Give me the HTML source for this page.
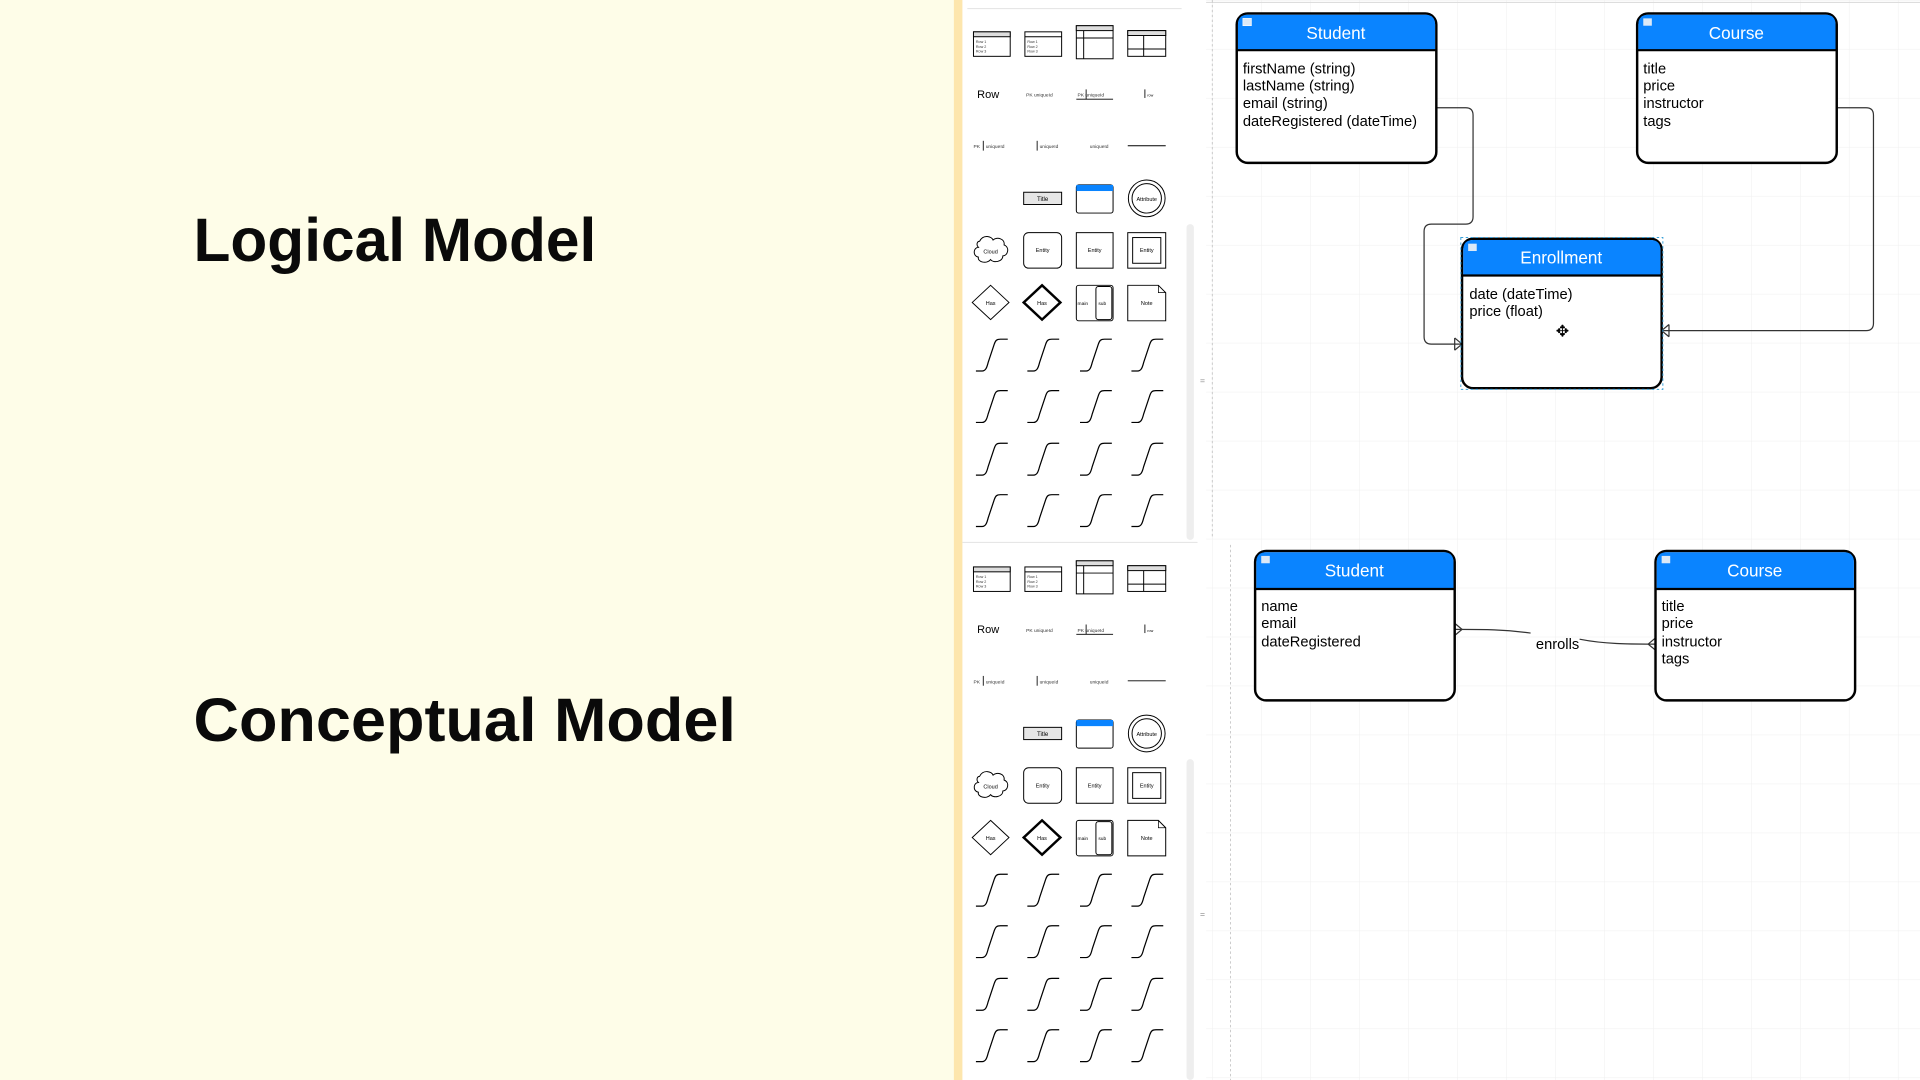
<!DOCTYPE html>
<html><head><meta charset="utf-8"><style>
html,body{margin:0;padding:0;width:1920px;height:1080px;overflow:hidden;background:#fff}
svg{display:block}
text{font-family:"Liberation Sans",Arial,sans-serif}
</style></head><body>
<svg width="1920" height="1080" viewBox="0 0 1568 882" xmlns="http://www.w3.org/2000/svg">
<defs>
<pattern id="grid" width="40" height="40" patternUnits="userSpaceOnUse" x="990" y="0">
<path d="M40 0H0V40" fill="none" stroke="#efefef" stroke-width="0.8"/>
</pattern>
<g id="curve"><path d="M0 27 h5 c3 0 4 -3 5 -7 l5 -15 c1 -3 2 -4 5 -4 h6" fill="none" stroke="#000" stroke-width="1"/></g>
<g id="panel">
 <!-- row1 tables -->
 <g fill="#fff" stroke="#000" stroke-width="0.8">
  <rect x="795" y="26" width="30" height="20"/><rect x="795" y="26" width="30" height="4" fill="#ddd"/>
  <rect x="837" y="26" width="30" height="20"/><line x1="837" y1="30" x2="867" y2="30"/>
  <rect x="879" y="21" width="30" height="27"/><rect x="879" y="21" width="30" height="4" fill="#ddd"/><line x1="879" y1="31" x2="909" y2="31"/><line x1="885" y1="25" x2="885" y2="48"/>
  <rect x="921" y="25" width="31" height="21"/><rect x="921" y="25" width="31" height="4" fill="#ddd"/><line x1="921" y1="40" x2="952" y2="40"/><line x1="934" y1="29" x2="934" y2="46"/>
 </g>
 <g font-size="3" fill="#333">
  <text x="797" y="35">Row 1</text><text x="797" y="39">Row 2</text><text x="797" y="43">Row 3</text>
  <text x="839" y="35">Row 1</text><text x="839" y="39">Row 2</text><text x="839" y="43">Row 3</text>
 </g>
 <!-- row2 -->
 <text x="798" y="80" font-size="9">Row</text>
 <text x="838" y="79" font-size="4" fill="#333">PK  uniqueId</text>
 <text x="880" y="79" font-size="4" fill="#333">PK  uniqueId</text>
 <line x1="879" y1="81" x2="909" y2="81" stroke="#000" stroke-width="0.7"/><line x1="887" y1="73" x2="887" y2="81" stroke="#000" stroke-width="0.7"/>
 <line x1="935" y1="73" x2="935" y2="80" stroke="#000" stroke-width="0.7"/><text x="937" y="79" font-size="3">row</text>
 <!-- row3 -->
 <text x="795" y="121" font-size="4" fill="#333">PK</text><line x1="803" y1="115" x2="803" y2="123" stroke="#000" stroke-width="0.7"/><text x="805" y="121" font-size="4" fill="#333">uniqueId</text>
 <line x1="847" y1="115" x2="847" y2="123" stroke="#000" stroke-width="0.7"/><text x="849" y="121" font-size="4" fill="#333">uniqueId</text>
 <text x="890" y="121" font-size="4" fill="#333">uniqueId</text>
 <line x1="921" y1="119" x2="952" y2="119" stroke="#000" stroke-width="0.8"/>
 <!-- row4 -->
 <rect x="836" y="157" width="31" height="10" fill="#e6e6e6" stroke="#000" stroke-width="0.8"/><text x="851.5" y="164" font-size="5" text-anchor="middle">Title</text>
 <rect x="879" y="151" width="30" height="23" rx="2" fill="#fff" stroke="#000" stroke-width="0.8"/><rect x="879" y="151" width="30" height="5" fill="#0a84ff"/>
 <circle cx="936.5" cy="162" r="15" fill="#fff" stroke="#000" stroke-width="0.8"/><circle cx="936.5" cy="162" r="12" fill="none" stroke="#000" stroke-width="0.8"/><text x="936.5" y="164" font-size="4.5" text-anchor="middle">Attribute</text>
 <!-- row5 -->
 <path d="M800 197 c3 -6 10 -4 11 -1 c3 -3 10 -1 9 4 c5 2 3 9 -1 9 c0 5 -8 6 -10 3 c-3 4 -11 2 -10 -2 c-5 -1 -4 -8 0 -8 c-2 -2 -1 -5 1 -5z" fill="#fff" stroke="#000" stroke-width="0.8"/><text x="809" y="207" font-size="4.5" text-anchor="middle">Cloud</text>
 <rect x="836" y="190" width="31" height="29" rx="4" fill="#fff" stroke="#000" stroke-width="0.8"/><text x="851.5" y="206" font-size="4.5" text-anchor="middle">Entity</text>
 <rect x="879" y="190" width="30" height="29" fill="#fff" stroke="#000" stroke-width="0.8"/><text x="894" y="206" font-size="4.5" text-anchor="middle">Entity</text>
 <rect x="921" y="190" width="31" height="29" fill="#fff" stroke="#000" stroke-width="0.8"/><rect x="925" y="194" width="23" height="21" fill="none" stroke="#000" stroke-width="0.8"/><text x="936.5" y="206" font-size="4.5" text-anchor="middle">Entity</text>
 <!-- row6 -->
 <path d="M809 233 l15 14 l-15 14 l-15 -14z" fill="#fff" stroke="#000" stroke-width="0.8"/><text x="809" y="249" font-size="4.5" text-anchor="middle">Has</text>
 <path d="M851 233 l15 14 l-15 14 l-15 -14z" fill="#fff" stroke="#000" stroke-width="2"/><text x="851" y="249" font-size="4.5" text-anchor="middle">Has</text>
 <rect x="879" y="233" width="30" height="29" rx="2" fill="#fff" stroke="#000" stroke-width="0.8"/><rect x="895" y="234" width="13" height="27" rx="2" fill="#fff" stroke="#000" stroke-width="0.8"/>
 <text x="880" y="249" font-size="4">main</text><text x="897" y="249" font-size="4">sub</text>
 <path d="M921 233 h25 l6 6 v23 h-31z" fill="#fff" stroke="#000" stroke-width="0.8"/><path d="M946 233 v6 h6" fill="none" stroke="#000" stroke-width="0.6"/><text x="936.5" y="249" font-size="4.5" text-anchor="middle">Note</text>
 <!-- curves -->
 <use href="#curve" x="797" y="276"/><use href="#curve" x="839" y="276"/><use href="#curve" x="882" y="276"/><use href="#curve" x="924" y="276"/>
 <use href="#curve" x="797" y="318"/><use href="#curve" x="839" y="318"/><use href="#curve" x="882" y="318"/><use href="#curve" x="924" y="318"/>
 <use href="#curve" x="797" y="361"/><use href="#curve" x="839" y="361"/><use href="#curve" x="882" y="361"/><use href="#curve" x="924" y="361"/>
 <use href="#curve" x="797" y="403"/><use href="#curve" x="839" y="403"/><use href="#curve" x="882" y="403"/><use href="#curve" x="924" y="403"/>
</g>
</defs>

<!-- left yellow panel -->
<rect x="0" y="0" width="780" height="882" fill="#fefde8"/>
<rect x="779" y="0" width="7" height="882" fill="#fde6ad"/>
<text x="158" y="213" font-size="50" font-weight="bold" textLength="329" lengthAdjust="spacingAndGlyphs" fill="#0a0a0a">Logical Model</text>
<text x="158" y="605" font-size="50" font-weight="bold" textLength="443" lengthAdjust="spacingAndGlyphs" fill="#0a0a0a">Conceptual Model</text>

<!-- sidebar -->
<rect x="786" y="0" width="192" height="882" fill="#fff"/>
<line x1="790" y1="7" x2="965" y2="7" stroke="#e6e6e6"/>
<line x1="786" y1="443" x2="978" y2="443" stroke="#e6e6e6"/>
<rect x="969" y="183" width="6" height="258" rx="3" fill="#eee"/>
<rect x="969" y="620" width="6" height="262" rx="3" fill="#eee"/>
<use href="#panel"/>
<use href="#panel" y="437"/>
<text x="980" y="313" font-size="7" fill="#888">=</text>
<text x="980" y="749" font-size="7" fill="#888">=</text>

<!-- canvas -->
<rect x="985" y="0" width="583" height="882" fill="url(#grid)"/>
<line x1="985" y1="2" x2="1568" y2="2" stroke="#ddd"/>
<line x1="990" y1="0" x2="990" y2="440" stroke="#bbb" stroke-dasharray="2,2" stroke-width="0.6"/>
<line x1="1005" y1="445" x2="1005" y2="882" stroke="#bbb" stroke-dasharray="2,2" stroke-width="0.6"/>

<!-- connectors logical -->
<g fill="none" stroke="#333" stroke-width="1">
 <path d="M1173 88 h24 q6 0 6 6 v83 q0 6 -6 6 h-28 q-6 0 -6 6 v86 q0 6 6 6 h25"/>
 <path d="M1188 276 l6 5 l-6 5 M1188 276 v10"/>
 <path d="M1500 88 h24 q6 0 6 6 v170 q0 6 -6 6 h-167"/>
 <path d="M1363 265 l-6 5 l6 5 M1363 265 v10"/>
 <!-- conceptual -->
 <path d="M1188 514 c25 0 40 0 62 3"/>
 <path d="M1290 522 c20 4 40 4 62 4"/>
 <path d="M1188 509 l6 5 l-6 5"/>
 <path d="M1352 521 l-6 5 l6 5"/>
</g>
<text x="1272" y="530" font-size="12" text-anchor="middle">enrolls</text>

<!-- entities -->
<g font-size="12">
 <!-- Student logical -->
 <rect x="1010" y="11" width="163" height="122" rx="9" fill="#fff" stroke="#000" stroke-width="2"/>
 <path d="M1011 41 V20 q0 -8 8 -8 h145 q8 0 8 8 V41z" fill="#0a84ff"/>
 <line x1="1010" y1="41" x2="1173" y2="41" stroke="#000" stroke-width="1.8"/>
 <rect x="1015" y="15" width="7" height="6" fill="#dce9f7" stroke="#fff" stroke-width="0.5"/>
 <text x="1091" y="32" font-size="14" fill="#fff" text-anchor="middle">Student</text>
 <text x="1015" y="60">firstName (string)</text><text x="1015" y="74">lastName (string)</text><text x="1015" y="88">email (string)</text><text x="1015" y="103">dateRegistered (dateTime)</text>

 <!-- Course logical -->
 <rect x="1337" y="11" width="163" height="122" rx="9" fill="#fff" stroke="#000" stroke-width="2"/>
 <path d="M1338 41 V20 q0 -8 8 -8 h145 q8 0 8 8 V41z" fill="#0a84ff"/>
 <line x1="1337" y1="41" x2="1500" y2="41" stroke="#000" stroke-width="1.8"/>
 <rect x="1342" y="15" width="7" height="6" fill="#dce9f7"/>
 <text x="1418" y="32" font-size="14" fill="#fff" text-anchor="middle">Course</text>
 <text x="1342" y="60">title</text><text x="1342" y="74">price</text><text x="1342" y="88">instructor</text><text x="1342" y="103">tags</text>

 <!-- Enrollment -->
 <rect x="1194" y="195" width="163" height="122" rx="9" fill="#fff" stroke="#000" stroke-width="2"/>
 <path d="M1195 225 V204 q0 -8 8 -8 h145 q8 0 8 8 V225z" fill="#0a84ff"/>
 <line x1="1194" y1="225" x2="1357" y2="225" stroke="#000" stroke-width="1.8"/>
 <rect x="1193" y="194" width="165" height="124" fill="none" stroke="#39a0d8" stroke-dasharray="2,2" stroke-width="0.8"/>
 <rect x="1199" y="199" width="7" height="6" fill="#dce9f7"/>
 <text x="1275" y="215" font-size="14" fill="#fff" text-anchor="middle">Enrollment</text>
 <text x="1200" y="244">date (dateTime)</text><text x="1200" y="258">price (float)</text>
 <text x="1276" y="275" font-size="13" text-anchor="middle">✥</text>

 <!-- Student conceptual -->
 <rect x="1025" y="450" width="163" height="122" rx="9" fill="#fff" stroke="#000" stroke-width="2"/>
 <path d="M1026 481 V459 q0 -8 8 -8 h145 q8 0 8 8 V481z" fill="#0a84ff"/>
 <line x1="1025" y1="481" x2="1188" y2="481" stroke="#000" stroke-width="1.8"/>
 <rect x="1030" y="454" width="7" height="6" fill="#dce9f7"/>
 <text x="1106" y="471" font-size="14" fill="#fff" text-anchor="middle">Student</text>
 <text x="1030" y="499">name</text><text x="1030" y="513">email</text><text x="1030" y="528">dateRegistered</text>

 <!-- Course conceptual -->
 <rect x="1352" y="450" width="163" height="122" rx="9" fill="#fff" stroke="#000" stroke-width="2"/>
 <path d="M1353 481 V459 q0 -8 8 -8 h145 q8 0 8 8 V481z" fill="#0a84ff"/>
 <line x1="1352" y1="481" x2="1515" y2="481" stroke="#000" stroke-width="1.8"/>
 <rect x="1357" y="454" width="7" height="6" fill="#dce9f7"/>
 <text x="1433" y="471" font-size="14" fill="#fff" text-anchor="middle">Course</text>
 <text x="1357" y="499">title</text><text x="1357" y="513">price</text><text x="1357" y="528">instructor</text><text x="1357" y="542">tags</text>
</g>
</svg>
</body></html>
